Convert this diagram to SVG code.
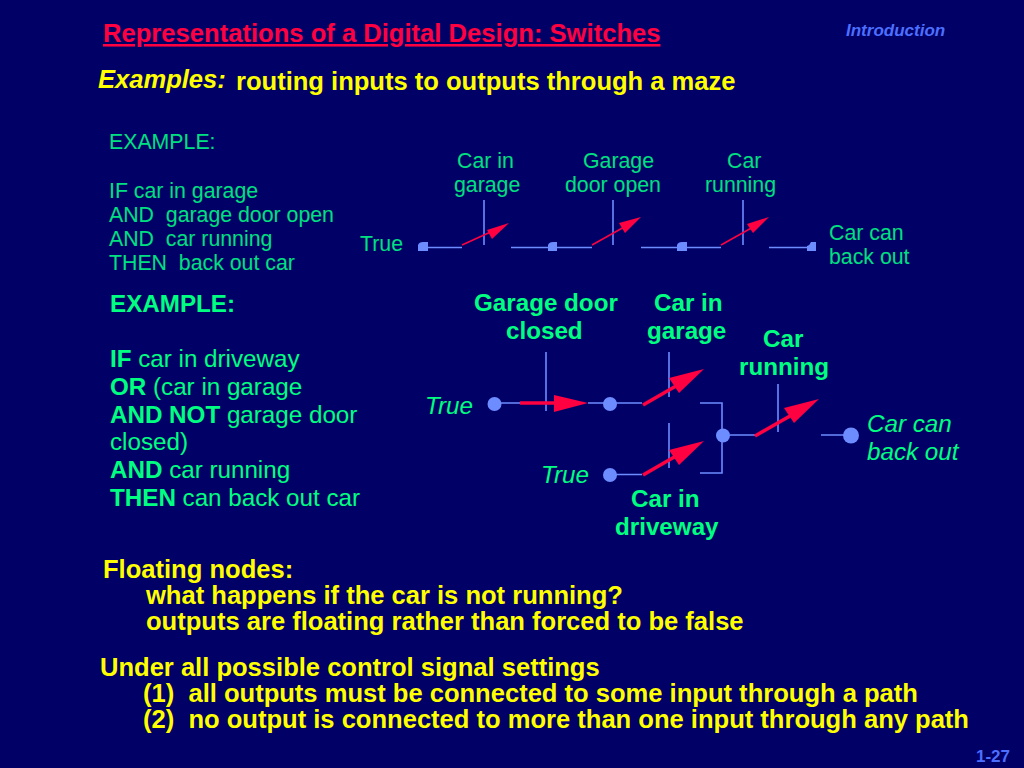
<svg xmlns="http://www.w3.org/2000/svg" width="1024" height="768" viewBox="0 0 1024 768">
<style>
text{font-family:"Liberation Sans",Arial,sans-serif}
.y{fill:#ffff00;font-weight:bold;font-size:25.55px}
.g{fill:#00e080;font-size:21.3px}
.m{fill:#00ff80;font-size:24.2px}
.b{font-weight:bold}
.i{font-style:italic}
.w{stroke:#6c8cff;stroke-width:1.6;fill:none}
.a{stroke:#ff0040;fill:none}
.h{fill:#ff0040}
.n{fill:#6c8cff}
</style>
<rect width="1024" height="768" fill="#000066"/>
<text x="103" y="42" font-size="25.6" font-weight="bold" fill="#ff0040" text-decoration="underline">Representations of a Digital Design: Switches</text>
<text x="846" y="36" font-size="17" font-weight="bold" font-style="italic" fill="#4d6fff">Introduction</text>
<text x="98" y="88" class="y i">Examples:</text>
<text x="236" y="90" class="y">routing inputs to outputs through a maze</text>
<g id="text-example-1" class="g">
<text x="109" y="149" class="g">EXAMPLE:</text>
<text x="109" y="198" class="g">IF car in garage</text>
<text x="109" y="222" class="g" xml:space="preserve">AND  garage door open</text>
<text x="109" y="246" class="g" xml:space="preserve">AND  car running</text>
<text x="109" y="270" class="g" xml:space="preserve">THEN  back out car</text>
</g>
<g id="text-example-2">
<text x="110" y="312" class="m b">EXAMPLE:</text>
<text x="110" y="367" class="m"><tspan class="b">IF</tspan> car in driveway</text>
<text x="110" y="395" class="m"><tspan class="b">OR</tspan> (car in garage</text>
<text x="110" y="423" class="m"><tspan class="b">AND NOT</tspan> garage door</text>
<text x="110" y="450" class="m">closed)</text>
<text x="110" y="478" class="m"><tspan class="b">AND</tspan> car running</text>
<text x="110" y="506" class="m"><tspan class="b">THEN</tspan> can back out car</text>
</g>
<g id="connectors-top">
<path class="w" d="M428 247.500H462M511 247.500H548M557 247.500H592M641 247.500H678M687 247.500H721M769 247.500H807"/>
<path class="w" d="M484 200V245M613 200V245M743 200V245"/>
<g class="a" stroke-width="1.500">
<path d="M462 245L495 230"/><path d="M592 245L626 226"/><path d="M721 245L755 226"/>
</g>
<path class="h" d="M509 223L487 230L492 239Z"/>
<path class="h" d="M641 217L619 223L625 233Z"/>
<path class="h" d="M769 217L747 224L753 233Z"/>
</g>
<g id="node-t1"><path class="n" d="M418 251V245Q419 242 423 242H428V251Z"/></g>
<g id="node-t2"><path class="n" d="M548 251V245Q549 242 553 242H557V251Z"/></g>
<g id="node-t3"><path class="n" d="M677 251V245Q678 242 682 242H687V251Z"/></g>
<g id="node-t4"><path class="n" d="M807 251V246Q810 245 811 242H816V251Z"/></g>
<g class="g">
<text x="457" y="168" class="g">Car in</text>
<text x="454" y="192" class="g">garage</text>
<text x="583" y="168" class="g">Garage</text>
<text x="565" y="192" class="g">door open</text>
<text x="727" y="168" class="g">Car</text>
<text x="705" y="192" class="g">running</text>
<text x="360" y="251" class="g">True</text>
<text x="829" y="240" class="g">Car can</text>
<text x="829" y="264" class="g">back out</text>
</g>
<g id="connectors-bottom">
<path class="w" d="M501 403H520M588 403H604M616 403H642M700 403H722V473H700M616 474.500H642M730 435H755M821 435H845"/>
<path class="w" d="M546 352V411M669 352V397M669 423V468M778 384V432"/>
<g class="a" stroke-width="3.500">
<path d="M520 403H556"/><path d="M643 405L676 386"/><path d="M643 475L676 456"/><path d="M755 436L790 416"/>
</g>
<path class="h" d="M588 403L554 395V412Z"/>
<path class="h" d="M704 369L669 378L679 393Z"/>
<path class="h" d="M704 441L669 450L679 465Z"/>
<path class="h" d="M819 399L784 408L794 423Z"/>
</g>
<g id="node-b1"><circle class="n" cx="494.500" cy="404" r="7"/></g>
<g id="node-b2"><circle class="n" cx="610" cy="404" r="7"/></g>
<g id="node-b3"><circle class="n" cx="610" cy="475" r="7"/></g>
<g id="node-b4"><circle class="n" cx="723" cy="435.500" r="7"/></g>
<g id="node-b5"><circle class="n" cx="851" cy="435.500" r="8"/></g>
<g>
<text x="474" y="311" class="m b">Garage door</text>
<text x="506" y="339" class="m b">closed</text>
<text x="654" y="311" class="m b">Car in</text>
<text x="647" y="339" class="m b">garage</text>
<text x="763" y="347" class="m b">Car</text>
<text x="739" y="375" class="m b">running</text>
<text x="425" y="414" class="m i">True</text>
<text x="541" y="483" class="m i">True</text>
<text x="631" y="507" class="m b">Car in</text>
<text x="615" y="535" class="m b">driveway</text>
<text x="867" y="432" class="m i">Car can</text>
<text x="867" y="460" class="m i">back out</text>
</g>
<g id="text-notes">
<text x="103" y="578" class="y">Floating nodes:</text>
<text x="146" y="604" class="y">what happens if the car is not running?</text>
<text x="146" y="630" class="y">outputs are floating rather than forced to be false</text>
<text x="100" y="676" class="y">Under all possible control signal settings</text>
<text x="143" y="702" class="y" xml:space="preserve">(1)  all outputs must be connected to some input through a path</text>
<text x="143" y="728" class="y" xml:space="preserve">(2)  no output is connected to more than one input through any path</text>
</g>
<text x="976" y="762" font-size="17" font-weight="bold" fill="#4d6fff">1-27</text>
</svg>
